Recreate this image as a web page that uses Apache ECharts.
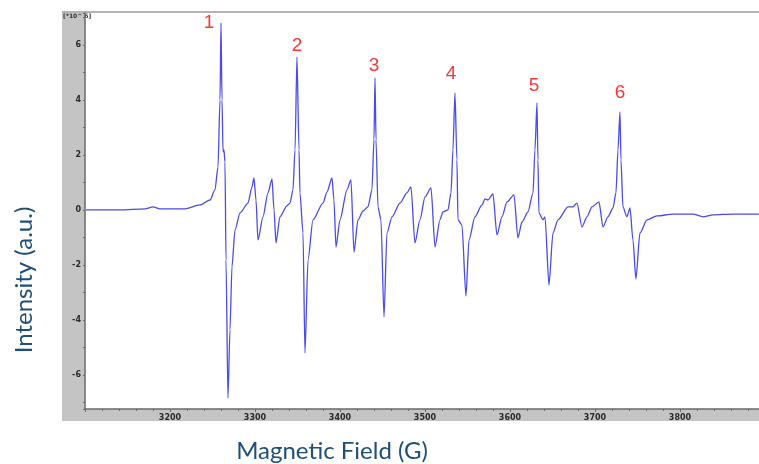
<!DOCTYPE html>
<html>
<head>
<meta charset="utf-8">
<script src="https://cdn.jsdelivr.net/npm/echarts@6/dist/echarts.min.js"></script>
<style>
html,body{margin:0;padding:0;background:#fff;}
#c{width:759px;height:464px;}
</style>
</head>
<body>
<div id="c"></div>
<script>
// Magnetic field (G)
var fieldG = [3101.2,3141.2,3170.6,3180.0,3188.2,3217.6,3235.3,3247.1,3252.9,3256.5,3258.8,3260.0,3261.2,3262.4,3263.5,3264.7,3265.9,3268.2,3270.6,3272.9,3276.5,3282.4,3291.8,3296.5,3298.8,3301.2,3303.5,3309.4,3315.3,3320.0,3322.4,3324.7,3329.4,3337.6,3341.2,3344.7,3347.1,3349.4,3351.8,3352.9,3356.5,3358.8,3362.4,3368.2,3380.0,3384.7,3390.6,3392.9,3395.3,3400.0,3408.2,3412.9,3416.5,3421.2,3427.1,3432.9,3437.6,3440.0,3441.2,3442.4,3444.7,3448.2,3451.8,3455.3,3461.2,3470.6,3478.8,3483.5,3488.2,3494.1,3500.0,3507.1,3511.8,3517.6,3521.2,3527.1,3530.6,3532.9,3535.3,3537.6,3538.8,3543.5,3548.2,3551.8,3558.8,3567.1,3570.6,3574.1,3580.0,3584.7,3590.6,3596.5,3604.7,3609.4,3614.1,3621.2,3627.1,3629.4,3631.8,3632.9,3634.1,3638.8,3641.2,3645.9,3650.6,3656.5,3668.2,3674.1,3678.8,3684.7,3690.6,3696.5,3704.7,3709.4,3715.3,3721.2,3724.7,3727.1,3729.4,3730.6,3732.9,3737.6,3741.2,3744.7,3748.2,3752.9,3761.2,3772.9,3791.8,3815.3,3827.1,3838.8,3862.4,3892.9];
// Intensity (x10^6, a.u.)
var intensity = [0.00,0.00,0.04,0.11,0.04,0.04,0.18,0.36,0.73,1.56,4.00,6.80,4.00,2.11,2.18,1.75,-1.82,-6.84,-4.36,-2.07,-0.73,-0.11,0.25,0.84,1.16,0.36,-1.09,-0.25,0.62,1.13,0.00,-1.20,-0.25,0.15,0.25,0.73,2.18,5.56,2.18,0.62,-0.84,-5.20,-1.82,-0.36,0.25,0.65,1.16,0.36,-1.35,-0.36,0.73,1.09,-1.53,-0.36,-0.04,0.11,0.73,2.55,4.80,2.55,0.11,-0.36,-3.89,-0.84,-0.25,0.25,0.62,0.84,-1.20,-0.36,0.47,0.80,-1.35,-0.36,-0.07,0.00,0.62,2.18,4.25,1.82,-0.36,-0.55,-3.13,-1.09,-0.25,0.18,0.40,0.36,0.58,-0.91,-0.25,0.29,0.55,-1.02,-0.44,-0.07,0.62,2.18,3.89,1.82,-0.11,-0.36,-0.25,-2.73,-0.84,-0.36,0.11,0.11,0.25,-0.62,-0.25,0.11,0.29,-0.62,-0.25,0.07,0.62,2.18,3.56,1.82,0.11,-0.25,0.07,-1.09,-2.51,-0.84,-0.36,-0.22,-0.15,-0.15,-0.25,-0.18,-0.15,-0.15];
// Peak labels and the field position of each labelled peak
var peakLabels = ['1','2','3','4','5','6'];
var peakFields = [3260.0,3349.4,3441.2,3535.3,3631.8,3729.4];
var yTitle = 'Intensity (a.u.)';
var xTitle = 'Magnetic Field (G)';
var yUnit = '[*10^ 6]';

// label centre relative to the peak tip (px)
var labelOffsets = [[-12,0],[0,-11],[-1,-12],[-4,-19],[-3,-17],[0,-19]];

var lineData = fieldG.map(function(g,i){ return [g,intensity[i]]; });
var peakData = peakFields.map(function(g,k){
  var i = fieldG.indexOf(g);
  return {value:[g,intensity[i]], label:{show:true, formatter:peakLabels[k],
      position:labelOffsets[k], align:'center', verticalAlign:'middle',
      color:'#ff0000', fontSize:19,
      fontFamily:'Liberation Sans, Arial, sans-serif'}};
});

var chart = echarts.init(document.getElementById('c'), null, {renderer:'canvas'});
var axisCol = '#6a6a6a';
var tickLabel = {color:'#2a2a2a', fontSize:8, fontWeight:'bold', fontFamily:'DejaVu Sans, sans-serif'};
chart.setOption({
  animation:false,
  backgroundColor:'#ffffff',
  graphic:[
    {type:'rect', z:-10, shape:{x:62,y:13,width:23,height:408}, style:{fill:'#c4c4c4'}},
    {type:'rect', z:-10, shape:{x:62,y:409,width:697,height:12}, style:{fill:'#c4c4c4'}},
    {type:'rect', z:-10, shape:{x:62,y:11,width:697,height:2}, style:{fill:'#b4b4b4'}},
    {type:'text', x:63, y:13, style:{text:yUnit, fontSize:6, fontWeight:'bold', fill:'#333', fontFamily:'DejaVu Sans, sans-serif'}},
    {type:'text', x:24, y:280, rotation:Math.PI/2, style:{text:yTitle, fontSize:24, fill:'#1f4e79', fontFamily:'Lato, sans-serif', textAlign:'center', textVerticalAlign:'middle'}},
    {type:'text', x:332, y:451, style:{text:xTitle, fontSize:24, fill:'#1f4e79', fontFamily:'Lato, sans-serif', textAlign:'center', textVerticalAlign:'middle'}}
  ],
  grid:{left:85, right:0, top:13, bottom:55, containLabel:false},
  xAxis:{type:'value', min:3100, max:3893, interval:100,
    axisLine:{show:true, onZero:false, lineStyle:{color:axisCol, width:1.5}},
    axisTick:{show:true, length:3, lineStyle:{color:axisCol}},
    minorTick:{show:true, splitNumber:5, length:2, lineStyle:{color:axisCol}},
    axisLabel:Object.assign({margin:5, showMinLabel:false, showMaxLabel:false,
      formatter:function(v){return String(v);}}, tickLabel),
    splitLine:{show:false}},
  yAxis:{type:'value', min:-7.24, max:7.16, splitNumber:7,
    axisLine:{show:true, onZero:false, lineStyle:{color:axisCol, width:1.5}},
    axisTick:{show:true, length:2, lineStyle:{color:axisCol}},
    minorTick:{show:true, splitNumber:2, length:2, lineStyle:{color:axisCol}},
    axisLabel:Object.assign({margin:4, showMinLabel:false, showMaxLabel:false}, tickLabel),
    splitLine:{show:false}},
  series:[
    {type:'line', data:lineData, showSymbol:false, symbol:'none', smooth:0.25, smoothMonotone:'x',
      lineStyle:{color:'#4a4aee', width:1.3}},
    {type:'scatter', data:peakData, symbolSize:0, itemStyle:{color:'#ff0000'}, z:5,
      labelLayout:{hideOverlap:false}}
  ]
});
</script>
</body>
</html>
